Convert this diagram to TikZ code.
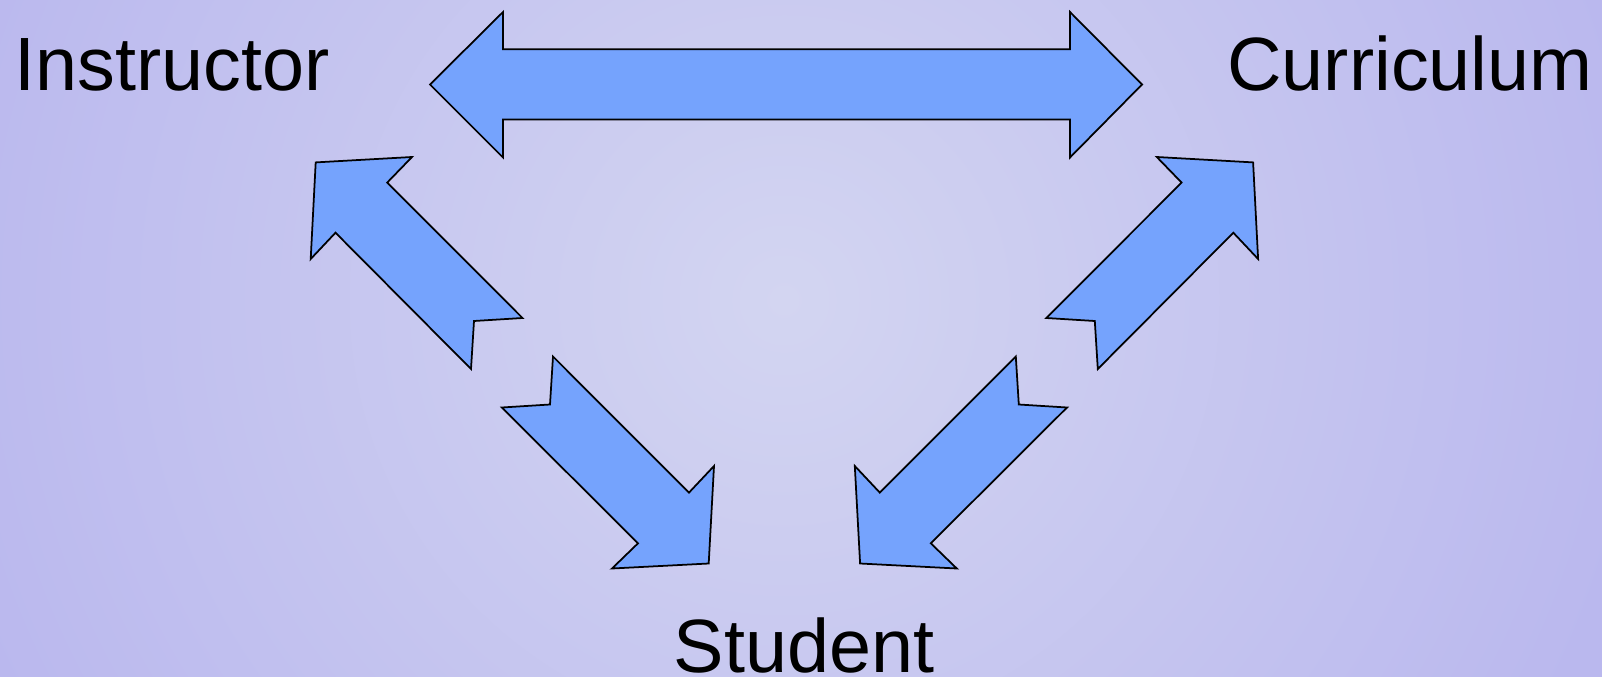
\documentclass[tikz,border=0pt]{standalone}
\usepackage{fontspec}
\setmainfont{Liberation Sans}
\usepackage{xcolor}
\definecolor{arrowblue}{HTML}{75A3FD}
\definecolor{bgcenter}{HTML}{D3D5F1}
\definecolor{bgedge}{HTML}{BAB8EE}
\pgfdeclareradialshading{bgglow}{\pgfpoint{0bp}{0bp}}{color(0bp)=(bgcenter); color(25bp)=(bgedge); color(50bp)=(bgedge)}
\newcommand{\role}[1]{\fontsize{43pt}{43pt}\selectfont #1}

\begin{document}
\begin{tikzpicture}[x=0.02cm, y=-0.02cm,
    blockarrow/.style={draw=black, fill=arrowblue, line width=1pt, line join=miter},
    rolename/.style={inner sep=0pt, anchor=base, text depth=0pt}]
  \useasboundingbox (0,0) rectangle (1602,676);
  \begin{scope}
    \clip (0,0) rectangle (1602,676);
    \shade[shading=bgglow] (-86,-570) rectangle (1654,1170);
  \end{scope}

  \node[rolename] (instr) at (172,90.7) {\role{Instructor}};
  \node[rolename] (curr) at (1410,90.7) {\role{Curriculum}};
  \node[rolename] (stud) at (804,672) {\role{Student}};

  % instructor <-> curriculum
  \draw[blockarrow] (430,84.5) -- (503,12) -- (503,49.3) -- (1070,49.3) -- (1070,12)
    -- (1142,84.5) -- (1070,157.5) -- (1070,119.5) -- (503,119.5) -- (503,157.5) -- cycle;

  % student -> instructor
  \draw[blockarrow] (315.7,162.4) -- (412,157) -- (387.2,182.6) -- (522.5,318)
    -- (474,321) -- (471,369) -- (335.5,232.7) -- (310.7,259) -- cycle;
  % instructor -> student
  \draw[blockarrow] (553,356.5) -- (689,492.6) -- (714,466) -- (708.7,563.5)
    -- (612,568.5) -- (638,543.3) -- (501.8,407.5) -- (550,404.5) -- cycle;

  % student -> curriculum
  \draw[blockarrow] (1253.1,162.4) -- (1156.8,157) -- (1181.6,182.6) -- (1046.3,318)
    -- (1094.8,321) -- (1097.8,369) -- (1233.3,232.7) -- (1258.1,259) -- cycle;
  % curriculum -> student
  \draw[blockarrow] (1015.8,356.5) -- (879.8,492.6) -- (854.8,466) -- (860.1,563.5)
    -- (956.8,568.5) -- (930.8,543.3) -- (1067,407.5) -- (1018.8,404.5) -- cycle;
\end{tikzpicture}
\end{document}
